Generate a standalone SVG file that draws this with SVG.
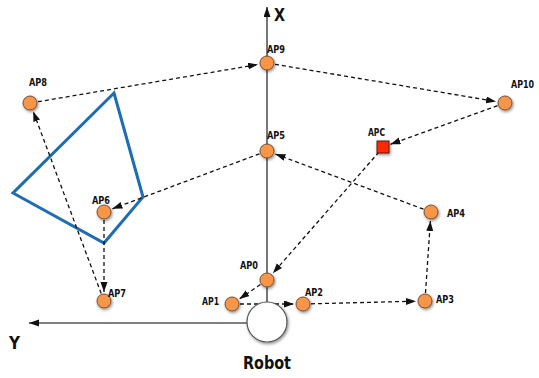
<svg xmlns="http://www.w3.org/2000/svg" width="539" height="378" viewBox="0 0 539 378">
  <style>
    .lbl { font-family: "DejaVu Sans Condensed", "Liberation Sans", sans-serif; font-weight: bold; font-size: 11px; fill: #111; }
    .axis-lbl { font-family: "DejaVu Sans Condensed", "Liberation Sans", sans-serif; font-weight: bold; font-size: 18px; fill: #111; }
    .ap { fill: #f7954a; stroke: #7a5030; stroke-width: 1; filter: url(#shadow); }
    .link { fill: none; stroke: #111; stroke-width: 1.3; stroke-dasharray: 4 3; marker-end: url(#head); }
    .axis { fill: none; stroke: #555; stroke-width: 1.6; marker-end: url(#head); }
  </style>
  <defs>
    <filter id="shadow" x="-50%" y="-50%" width="200%" height="200%">
      <feDropShadow dx="1" dy="1.5" stdDeviation="1.5" flood-color="#000" flood-opacity="0.45"/>
    </filter>
    <marker id="head" markerUnits="userSpaceOnUse" markerWidth="11" markerHeight="8" refX="10" refY="3.5" orient="auto">
      <path d="M0,0 L10,3.5 L0,7 z" fill="#111"/>
    </marker>
  </defs>

  <!-- coordinate axes -->
  <g id="axes">
    <line class="axis" x1="267" y1="302" x2="267" y2="7"/>
    <line class="axis" x1="247" y1="323" x2="29" y2="323"/>
    <text class="axis-lbl" x="274" y="21" textLength="11" lengthAdjust="spacingAndGlyphs">X</text>
    <text class="axis-lbl" x="9" y="349" textLength="11" lengthAdjust="spacingAndGlyphs">Y</text>
  </g>

  <!-- obstacle outline -->
  <polygon id="obstacle" points="114,93 143,197 104,243 13,193" fill="none" stroke="#1c6cb6" stroke-width="3" stroke-linejoin="miter"/>

  <!-- visiting order between access points -->
  <g id="connectors">
    <line class="link" x1="38" y1="101.7" x2="258" y2="64.5"/>
    <line class="link" x1="275" y1="64.3" x2="496" y2="101.5"/>
    <line class="link" x1="497.5" y1="105.7" x2="390.5" y2="144.3"/>
    <line class="link" x1="379" y1="152" x2="272.9" y2="273.2"/>
    <line class="link" x1="260.4" y1="284.5" x2="239.4" y2="298.9"/>
    <line class="link" x1="240" y1="304" x2="294" y2="304"/>
    <line class="link" x1="311" y1="303.8" x2="416" y2="301.2"/>
    <line class="link" x1="425.5" y1="293" x2="430.4" y2="221"/>
    <line class="link" x1="423.5" y1="209.2" x2="275.4" y2="154.1"/>
    <line class="link" x1="259.5" y1="153.8" x2="112.4" y2="208.8"/>
    <line class="link" x1="104" y1="220" x2="104" y2="292"/>
    <line class="link" x1="101.2" y1="293.5" x2="33.2" y2="111.4"/>
  </g>

  <!-- robot -->
  <g id="robot">
    <circle cx="267" cy="322" r="20" fill="#fff" stroke="#555" stroke-width="1.2" filter="url(#shadow)"/>
    <text class="axis-lbl" x="243" y="369" textLength="48" lengthAdjust="spacingAndGlyphs">Robot</text>
  </g>

  <!-- access points -->
  <g id="AP0"><circle class="ap" cx="267" cy="280" r="7"/><text class="lbl" x="240" y="269" textLength="18" lengthAdjust="spacingAndGlyphs">AP0</text></g>
  <g id="AP1"><circle class="ap" cx="232" cy="304" r="7"/><text class="lbl" x="202" y="305" textLength="17" lengthAdjust="spacingAndGlyphs">AP1</text></g>
  <g id="AP2"><circle class="ap" cx="303" cy="304" r="7"/><text class="lbl" x="305" y="296" textLength="18" lengthAdjust="spacingAndGlyphs">AP2</text></g>
  <g id="AP3"><circle class="ap" cx="425" cy="301" r="7"/><text class="lbl" x="436" y="303" textLength="18" lengthAdjust="spacingAndGlyphs">AP3</text></g>
  <g id="AP4"><circle class="ap" cx="431" cy="212" r="7"/><text class="lbl" x="447" y="217" textLength="18" lengthAdjust="spacingAndGlyphs">AP4</text></g>
  <g id="AP5"><circle class="ap" cx="267" cy="151" r="7"/><text class="lbl" x="267" y="139" textLength="18" lengthAdjust="spacingAndGlyphs">AP5</text></g>
  <g id="AP6"><circle class="ap" cx="104" cy="212" r="7"/><text class="lbl" x="92" y="204" textLength="18" lengthAdjust="spacingAndGlyphs">AP6</text></g>
  <g id="AP7"><circle class="ap" cx="104" cy="301" r="7"/><text class="lbl" x="108" y="297" textLength="18" lengthAdjust="spacingAndGlyphs">AP7</text></g>
  <g id="AP8"><circle class="ap" cx="30" cy="103" r="7"/><text class="lbl" x="29" y="86" textLength="18" lengthAdjust="spacingAndGlyphs">AP8</text></g>
  <g id="AP9"><circle class="ap" cx="267" cy="63" r="7"/><text class="lbl" x="267" y="53" textLength="18" lengthAdjust="spacingAndGlyphs">AP9</text></g>
  <g id="AP10"><circle class="ap" cx="505" cy="103" r="7"/><text class="lbl" x="511" y="88" textLength="23" lengthAdjust="spacingAndGlyphs">AP10</text></g>
  <g id="APC"><rect x="377" y="141" width="12" height="12" fill="#ff2a00" stroke="#5a1a10" stroke-width="1" filter="url(#shadow)"/><text class="lbl" x="368" y="136" textLength="17" lengthAdjust="spacingAndGlyphs">APC</text></g>
</svg>
